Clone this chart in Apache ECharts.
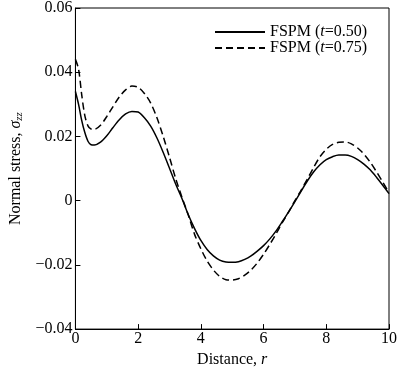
<!DOCTYPE html>
<html>
<head>
<meta charset="utf-8">
<script src="https://cdn.jsdelivr.net/npm/echarts@6/dist/echarts.min.js"></script>
<style>
html,body{margin:0;padding:0;background:#fff;}
#chart{width:400px;height:373px;}
</style>
</head>
<body>
<div id="chart"></div>
<script>
// Distance r
var distance = [0, 0.1, 0.2, 0.3, 0.4, 0.5, 0.6, 0.8, 1.0, 1.2, 1.4, 1.6, 1.8, 2.0,
  2.2, 2.4, 2.6, 2.8, 3.0, 3.2, 3.4, 3.6, 3.8, 4.0, 4.2, 4.4, 4.6, 4.8, 5.0,
  5.2, 5.4, 5.6, 5.8, 6.0, 6.2, 6.4, 6.6, 6.8, 7.0, 7.2, 7.4, 7.6, 7.8, 8.0,
  8.2, 8.4, 8.6, 8.8, 9.0, 9.2, 9.4, 9.6, 9.8, 10.0];
// FSPM (t=0.50)
var stressT050 = [0.034, 0.030, 0.025, 0.0212, 0.0185, 0.0174, 0.0173, 0.0182, 0.0202, 0.0228, 0.0252, 0.0270, 0.0278, 0.0276,
  0.0258, 0.0232, 0.0195, 0.0150, 0.0101, 0.0051, 0.0006, -0.0044, -0.0087, -0.0124, -0.0152, -0.0172, -0.0185, -0.0191, -0.0192,
  -0.0190, -0.0183, -0.0172, -0.0157, -0.0140, -0.0119, -0.0094, -0.0065, -0.0035, -0.0003, 0.0030, 0.0062, 0.0090, 0.0112, 0.0128,
  0.0137, 0.0142, 0.0142, 0.0138, 0.0128, 0.0114, 0.0096, 0.0073, 0.0048, 0.0022];
// FSPM (t=0.75)
var stressT075 = [0.044, 0.041, 0.033, 0.0265, 0.0233, 0.0223, 0.0222, 0.0235, 0.0262, 0.0293, 0.0323, 0.0345, 0.0357, 0.0353,
  0.0334, 0.0304, 0.0258, 0.0200, 0.0135, 0.0068, 0.0010, -0.0045, -0.0105, -0.0150, -0.0188, -0.0216, -0.0236, -0.0246, -0.0247,
  -0.0243, -0.0232, -0.0216, -0.0194, -0.0167, -0.0136, -0.0103, -0.0068, -0.0035, 0.0000, 0.0033, 0.0068, 0.0104, 0.0137, 0.0160,
  0.0175, 0.0182, 0.0183, 0.0177, 0.0164, 0.0145, 0.0120, 0.0090, 0.0058, 0.0025];
var seriesNames = ['FSPM (t=0.50)', 'FSPM (t=0.75)'];
var xTicks = [0, 2, 4, 6, 8, 10];
var yTicks = [-0.04, -0.02, 0, 0.02, 0.04, 0.06];

function zip(xs, ys) { return xs.map(function (x, i) { return [x, ys[i]]; }); }

var FONT = 'Liberation Serif';
var chart = echarts.init(document.getElementById('chart'), null, {renderer: 'canvas'});
chart.setOption({
  animation: false,
  backgroundColor: '#fff',
  grid: {left: 65, right: 7, top: 5, bottom: 41, show: true, borderColor: '#000', borderWidth: 1, backgroundColor: 'transparent'},
  legend: {
    orient: 'vertical', left: 214, top: 24, itemWidth: 50, itemHeight: 13, itemGap: 0,
    padding: 0,
    data: seriesNames,
    itemStyle: {opacity: 0},
    formatter: function (name) {
      var m = name.match(/^(.*\()t(=.*)$/);
      return '{n|' + m[1] + '}{i|t}{n|' + m[2] + '}';
    },
    textStyle: {
      color: '#000', fontFamily: FONT, fontSize: 16, lineHeight: 13,
      rich: {
        n: {fontFamily: FONT, fontSize: 16, color: '#000'},
        i: {fontFamily: FONT, fontSize: 16, fontStyle: 'italic', color: '#000'}
      }
    }
  },
  xAxis: {
    type: 'value', min: xTicks[0], max: xTicks[xTicks.length - 1], interval: 2,
    name: 'Distance, {i|r}', nameLocation: 'middle', nameGap: 21,
    nameTextStyle: {color: '#000', fontFamily: FONT, fontSize: 16,
      rich: {i: {fontFamily: FONT, fontSize: 16, fontStyle: 'italic', color: '#000'}}},
    axisLine: {show: true, onZero: false, lineStyle: {color: '#000', width: 1}},
    axisTick: {show: true, inside: true, length: 5, lineStyle: {color: '#000'}},
    axisLabel: {color: '#000', fontFamily: FONT, fontSize: 16, margin: 2},
    splitLine: {show: false}
  },
  yAxis: {
    type: 'value', min: yTicks[0], max: yTicks[yTicks.length - 1], interval: 0.02,
    name: 'Normal stress, {i|σ}{s|zz}', nameLocation: 'middle', nameGap: 47,
    nameTextStyle: {color: '#000', fontFamily: FONT, fontSize: 16,
      rich: {
        i: {fontFamily: FONT, fontSize: 16, fontStyle: 'italic', color: '#000'},
        s: {fontFamily: FONT, fontSize: 11, fontStyle: 'italic', color: '#000', verticalAlign: 'bottom', padding: [6, 0, 0, 0]}
      }},
    axisLine: {show: true, onZero: false, lineStyle: {color: '#000', width: 1}},
    axisTick: {show: true, inside: true, length: 5, lineStyle: {color: '#000'}},
    axisLabel: {color: '#000', fontFamily: FONT, fontSize: 16, margin: 3,
      formatter: function (v) {
        if (Math.abs(v) < 1e-9) return '0';
        return v.toFixed(2).replace('-', '\u2212');
      }},
    splitLine: {show: false}
  },
  series: [
    {name: seriesNames[0], type: 'line', data: zip(distance, stressT050), smooth: 0.3, symbol: 'none',
      lineStyle: {color: '#000', width: 1.5, type: 'solid'}, itemStyle: {color: '#000'}},
    {name: seriesNames[1], type: 'line', data: zip(distance, stressT075), smooth: 0.3, symbol: 'none',
      lineStyle: {color: '#000', width: 1.5, type: [7, 4]}, itemStyle: {color: '#000'}}
  ]
});
</script>
</body>
</html>
